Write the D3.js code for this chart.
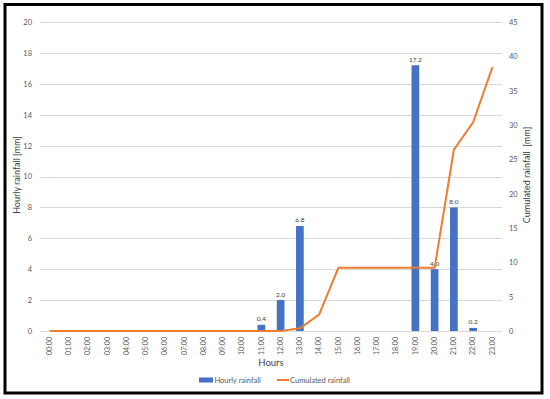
<!DOCTYPE html>
<html lang="en">
<head>
<meta charset="UTF-8">
<title>rainfall</title>
<script src="https://d3js.org/d3.v7.min.js"></script>
<style>
  body { margin: 0; background: #fff; }
  svg text { font-family: Lato, "Open Sans", sans-serif; fill: #595959; }
</style>
</head>
<body>
<svg width="550" height="399"></svg>
<script>
const hours = ["00:00","01:00","02:00","03:00","04:00","05:00","06:00","07:00","08:00","09:00","10:00","11:00",
               "12:00","13:00","14:00","15:00","16:00","17:00","18:00","19:00","20:00","21:00","22:00","23:00"];
const hourly = [0,0,0,0,0,0,0,0,0,0,0,0.4, 2.0,6.8,0,0,0,0,0,17.2,4.0,8.0,0.2,0];
const cumulated = [0,0,0,0,0,0,0,0,0,0,0,0, 0,0.4,2.4,9.2,9.2,9.2,9.2,9.2,9.2,26.4,30.4,38.4];
const leftTicks = [0,2,4,6,8,10,12,14,16,18,20];
const rightTicks = [0,5,10,15,20,25,30,35,40,45];

const svg = d3.select("svg");
const m = {left: 40, right: 502, top: 22, bottom: 331};

const x = d3.scaleBand().domain(hours).range([m.left, m.right]).paddingInner(0.6).paddingOuter(0.3);
const xc = d => x(d) + x.bandwidth() / 2;
const yL = d3.scaleLinear().domain([0, 20]).range([m.bottom, m.top]);
const yR = d3.scaleLinear().domain([0, 45]).range([m.bottom, m.top]);

// frame
svg.append("rect").attr("x", 5).attr("y", 4.5).attr("width", 537).attr("height", 388.5)
  .attr("fill", "none").attr("stroke", "#000").attr("stroke-width", 3);

// grid
svg.append("g").selectAll("line").data(leftTicks).join("line")
  .attr("x1", m.left).attr("x2", m.right)
  .attr("y1", d => Math.round(yL(d)) + 0.5).attr("y2", d => Math.round(yL(d)) + 0.5)
  .attr("stroke", "#d9d9d9").attr("stroke-width", 1);

// left axis
const gl = svg.append("g").attr("transform", `translate(${m.left},0)`)
  .call(d3.axisLeft(yL).tickValues(leftTicks).tickSize(0).tickPadding(8));
gl.select(".domain").remove();
gl.selectAll("text").attr("font-size", 7.5).style("fill", "#595959");

// right axis
const gr = svg.append("g").attr("transform", `translate(${m.right},0)`)
  .call(d3.axisRight(yR).tickValues(rightTicks).tickSize(0).tickPadding(7));
gr.select(".domain").remove();
gr.selectAll("text").attr("font-size", 7.5).style("fill", "#595959");

// x axis
const gx = svg.append("g").attr("transform", `translate(0,${m.bottom})`)
  .call(d3.axisBottom(x).tickSize(0));
gx.select(".domain").remove();
gx.selectAll("text")
  .attr("font-size", 7)
  .attr("transform", "rotate(-90)")
  .attr("text-anchor", "end")
  .attr("dy", "0.32em")
  .attr("x", -6).attr("y", 0)
  .style("fill", "#595959");

// bars
svg.append("g").selectAll("rect").data(hours.map((h, i) => ({h, v: hourly[i]})).filter(d => d.v > 0))
  .join("rect")
  .attr("x", d => x(d.h)).attr("width", x.bandwidth())
  .attr("y", d => yL(d.v)).attr("height", d => yL(0) - yL(d.v))
  .attr("fill", "#4472c4");

svg.append("g").selectAll("text").data(hours.map((h, i) => ({h, v: hourly[i]})).filter(d => d.v > 0))
  .join("text")
  .attr("x", d => xc(d.h)).attr("y", d => yL(d.v) - 3.5)
  .attr("text-anchor", "middle").attr("font-size", 6.5)
  .style("fill", "#404040")
  .text(d => d.v.toFixed(1));

// cumulated line
const line = d3.line().x((d, i) => xc(hours[i])).y(d => yR(d));
svg.append("path").attr("d", line(cumulated))
  .attr("fill", "none").attr("stroke", "#ed7d31").attr("stroke-width", 2);

// axis titles
svg.append("text").attr("transform", "translate(20,175) rotate(-90)")
  .attr("text-anchor", "middle").attr("font-size", 9).style("fill", "#404040")
  .text("Hourly rainfall [mm]");
svg.append("text").attr("transform", "translate(530,175) rotate(-90)")
  .attr("text-anchor", "middle").attr("font-size", 9).style("fill", "#404040")
  .attr("xml:space", "preserve")
  .text("Cumulated rainfall  [mm]");
svg.append("text").attr("x", 271).attr("y", 366)
  .attr("text-anchor", "middle").attr("font-size", 9.5).style("fill", "#404040")
  .text("Hours");

// legend
const lg = svg.append("g");
lg.append("rect").attr("x", 199).attr("y", 377.5).attr("width", 14).attr("height", 5).attr("fill", "#4472c4");
lg.append("text").attr("x", 214.5).attr("y", 382.5).attr("font-size", 7.5).text("Hourly rainfall");
lg.append("line").attr("x1", 277).attr("x2", 289).attr("y1", 380).attr("y2", 380)
  .attr("stroke", "#ed7d31").attr("stroke-width", 2);
lg.append("text").attr("x", 290).attr("y", 382.5).attr("font-size", 7.5).text("Cumulated rainfall");
</script>
</body>
</html>
